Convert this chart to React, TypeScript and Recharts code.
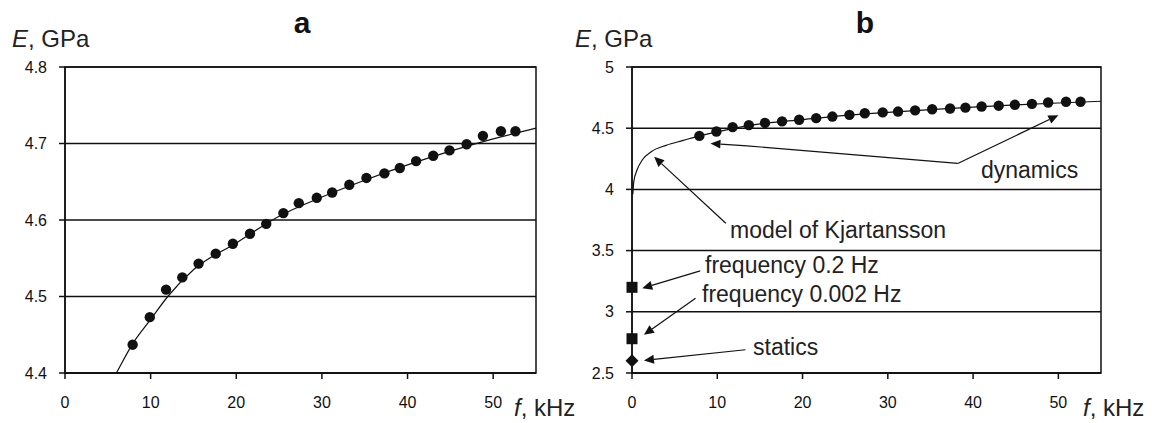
import {
  ComposedChart,
  Line,
  Scatter,
  XAxis,
  YAxis,
  CartesianGrid,
  ReferenceArea,
  ReferenceLine,
} from "recharts";

// ---------------------------------------------------
// DATA
// ---------------------------------------------------
// measured dynamic modulus (both panels show the same points)
const dynFreq = [
  7.9, 9.9, 11.8, 13.7, 15.6, 17.6, 19.6, 21.6, 23.5, 25.5, 27.3, 29.4, 31.2,
  33.2, 35.2, 37.3, 39.1, 41.0, 43.0, 44.9, 46.9, 48.8, 50.9, 52.6,
];
const dynModulus = [
  4.437, 4.473, 4.509, 4.525, 4.543, 4.556, 4.569, 4.582, 4.595, 4.609, 4.622,
  4.629, 4.636, 4.646, 4.655, 4.661, 4.668, 4.677, 4.684, 4.691, 4.699, 4.71,
  4.716, 4.716,
];

// model of Kjartansson
const modelFreq = [0.1, 0.2, 0.6, 1.2, 2.3, 4, 6, 8, 10, 12, 15, 20, 25, 30, 35, 40, 45, 50, 55];
const modelModulus = [
  3.96, 4.06, 4.16, 4.24, 4.31, 4.36, 4.4, 4.44, 4.47, 4.5, 4.535, 4.57, 4.605,
  4.63, 4.652, 4.672, 4.69, 4.706, 4.72,
];

// low-frequency / static values at f = 0
const lowFreqModulus = [3.2, 2.78]; // 0.2 Hz, 0.002 Hz
const staticModulus = [2.6];

const xTicks = [0, 10, 20, 30, 40, 50];
const yTicksA = [4.4, 4.5, 4.6, 4.7, 4.8];
const yTicksB = [2.5, 3, 3.5, 4, 4.5, 5];

const dynPoints = dynFreq.map((f, i) => ({ f, E: dynModulus[i] }));
const modelPoints = modelFreq.map((f, i) => ({ f, E: modelModulus[i] }));
const squarePoints = lowFreqModulus.map((E) => ({ f: 0, E }));
const diamondPoints = staticModulus.map((E) => ({ f: 0, E }));

// annotation arrows in panel b, data units [f, E]
const arrows = [
  { from: [38.2, 4.212], to: [13.5, 4.356], head: false },
  { from: [13.5, 4.356], to: [9.2, 4.375], head: true },
  { from: [38.2, 4.212], to: [50.0, 4.606], head: true },
  { from: [11.0, 3.723], to: [2.6, 4.266], head: true },
  { from: [8.0, 3.334], to: [1.2, 3.193], head: true },
  { from: [7.45, 3.111], to: [1.4, 2.812], head: true },
  { from: [13.3, 2.69], to: [1.4, 2.603], head: true },
];

const INK = "#111";
const FONT = "'Liberation Sans', Arial, sans-serif";
const tickStyle = { fill: INK, fontSize: 16, fontFamily: FONT };

// ---------------------------------------------------
// SHAPES
// ---------------------------------------------------
function Dot(p: any) {
  return <circle cx={p.cx} cy={p.cy} r={5.2} fill={INK} />;
}
function Square(p: any) {
  return <rect x={p.cx - 5.5} y={p.cy - 5.5} width={11} height={11} fill={INK} />;
}
function Diamond(p: any) {
  const s = 6.5;
  return (
    <polygon
      points={`${p.cx},${p.cy - s} ${p.cx + s},${p.cy} ${p.cx},${p.cy + s} ${p.cx - s},${p.cy}`}
      fill={INK}
    />
  );
}

function Arrow(head: boolean) {
  return (p: any) => {
    const { x1, y1, x2, y2 } = p;
    const a = Math.atan2(y2 - y1, x2 - x1);
    const L = 10;
    const W = 4.5;
    const bx = x2 - L * Math.cos(a);
    const by = y2 - L * Math.sin(a);
    const nx = -Math.sin(a) * W;
    const ny = Math.cos(a) * W;
    return (
      <g>
        <line x1={x1} y1={y1} x2={head ? bx : x2} y2={head ? by : y2} stroke={INK} strokeWidth={1.2} />
        {head && (
          <polygon points={`${x2},${y2} ${bx + nx},${by + ny} ${bx - nx},${by - ny}`} fill={INK} />
        )}
      </g>
    );
  };
}

// ---------------------------------------------------
// MAIN COMPONENT
// ---------------------------------------------------
export default function App() {
  return (
    <div
      style={{
        position: "absolute",
        left: 0,
        top: 0,
        width: 1156,
        height: 423,
        background: "#fff",
        fontFamily: FONT,
      }}
    >
      {/* PANEL A */}
      <div style={{ position: "absolute", left: 0, top: 0 }}>
        <ComposedChart width={578} height={423} margin={{ top: 67, right: 42, bottom: 10, left: 15 }}>
          <CartesianGrid vertical={false} stroke={INK} strokeWidth={1.5} />
          <XAxis
            type="number"
            dataKey="f"
            domain={[0, 55]}
            ticks={xTicks}
            height={40}
            tick={tickStyle}
            tickMargin={18}
            tickSize={6}
            axisLine={{ stroke: INK, strokeWidth: 1.5 }}
            tickLine={{ stroke: INK, strokeWidth: 1.5 }}
          />
          <YAxis
            type="number"
            domain={[4.4, 4.8]}
            ticks={yTicksA}
            allowDataOverflow
            width={50}
            tick={tickStyle}
            tickMargin={12}
            tickSize={6}
            tickFormatter={(v: number) => v.toFixed(1)}
            axisLine={{ stroke: INK, strokeWidth: 1.5 }}
            tickLine={{ stroke: INK, strokeWidth: 1.5 }}
          />
          <ReferenceArea x1={0} x2={55} y1={4.4} y2={4.8} fill="none" stroke={INK} strokeWidth={1.5} />
          <Line
            data={modelPoints}
            dataKey="E"
            type="monotone"
            dot={false}
            stroke={INK}
            strokeWidth={1.2}
            isAnimationActive={false}
          />
          <Scatter data={dynPoints} dataKey="E" shape={Dot} isAnimationActive={false} />
        </ComposedChart>
      </div>

      {/* PANEL B */}
      <div style={{ position: "absolute", left: 570, top: 0 }}>
        <ComposedChart width={586} height={423} margin={{ top: 67, right: 55, bottom: 10, left: 12 }}>
          <CartesianGrid vertical={false} stroke={INK} strokeWidth={1.5} />
          <XAxis
            type="number"
            dataKey="f"
            domain={[0, 55]}
            ticks={xTicks}
            height={40}
            tick={tickStyle}
            tickMargin={18}
            tickSize={6}
            axisLine={{ stroke: INK, strokeWidth: 1.5 }}
            tickLine={{ stroke: INK, strokeWidth: 1.5 }}
          />
          <YAxis
            type="number"
            domain={[2.5, 5]}
            ticks={yTicksB}
            width={50}
            tick={tickStyle}
            tickMargin={12}
            tickSize={6}
            axisLine={{ stroke: INK, strokeWidth: 1.5 }}
            tickLine={{ stroke: INK, strokeWidth: 1.5 }}
          />
          <ReferenceArea x1={0} x2={55} y1={2.5} y2={5} fill="none" stroke={INK} strokeWidth={1.5} />
          {arrows.map((a, i) => (
            <ReferenceLine
              key={i}
              segment={[
                { x: a.from[0], y: a.from[1] },
                { x: a.to[0], y: a.to[1] },
              ]}
              shape={Arrow(a.head)}
            />
          ))}
          <Line
            data={modelPoints}
            dataKey="E"
            type="monotone"
            dot={false}
            stroke={INK}
            strokeWidth={1.2}
            isAnimationActive={false}
          />
          <Scatter data={dynPoints} dataKey="E" shape={Dot} isAnimationActive={false} />
          <Scatter data={squarePoints} dataKey="E" shape={Square} isAnimationActive={false} />
          <Scatter data={diamondPoints} dataKey="E" shape={Diamond} isAnimationActive={false} />
        </ComposedChart>
      </div>

      {/* TEXT LAYER */}
      <svg
        width={1156}
        height={423}
        style={{ position: "absolute", left: 0, top: 0, pointerEvents: "none" }}
        fontFamily={FONT}
        fill={INK}
      >
        <text x={302} y={33} fontSize={30} fontWeight="bold" textAnchor="middle">a</text>
        <text x={865} y={33} fontSize={30} fontWeight="bold" textAnchor="middle">b</text>

        <text x={12} y={47} fontSize={24} fill="#222">
          <tspan fontStyle="italic">E</tspan>, GPa
        </text>
        <text x={575} y={47} fontSize={24} fill="#222">
          <tspan fontStyle="italic">E</tspan>, GPa
        </text>
        <text x={514} y={416} fontSize={24} fill="#222">
          <tspan fontStyle="italic">f</tspan>, kHz
        </text>
        <text x={1083} y={416} fontSize={24} fill="#222">
          <tspan fontStyle="italic">f</tspan>, kHz
        </text>

        <text x={730} y={238} fontSize={23} fill="#222">model of Kjartansson</text>
        <text x={705} y={273} fontSize={23} fill="#222">frequency 0.2 Hz</text>
        <text x={702} y={302} fontSize={23} fill="#222">frequency 0.002 Hz</text>
        <text x={753} y={355} fontSize={23} fill="#222">statics</text>
        <text x={981} y={178} fontSize={23} fill="#222">dynamics</text>
      </svg>
    </div>
  );
}
